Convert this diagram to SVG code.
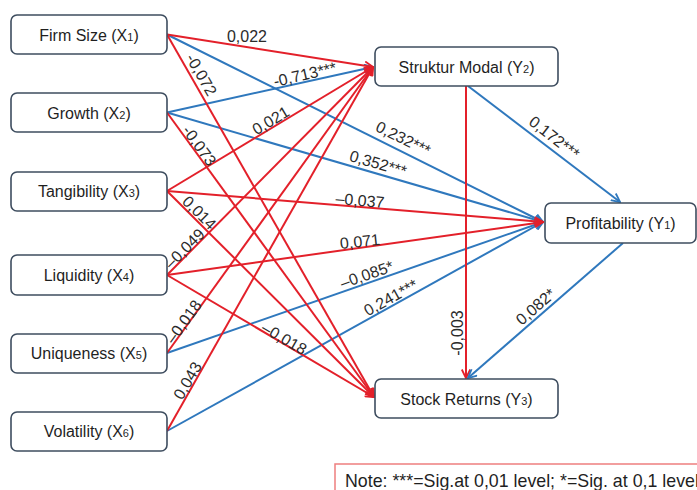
<svg xmlns="http://www.w3.org/2000/svg" width="697" height="490" viewBox="0 0 697 490">
<defs>
<style>
.box{fill:#ffffff;stroke:#3e4d5f;stroke-width:1.6}
.nt{font-family:"Liberation Sans",Arial,sans-serif;font-size:16px;fill:#1f1f1f;text-anchor:middle}
.sub{font-size:11px}
.r{fill:none;stroke:#e3202a;stroke-width:2;marker-end:url(#mr)}
.b{fill:none;stroke:#2f78bd;stroke-width:2;marker-end:url(#mb)}
.lb{font-family:"Liberation Sans",Arial,sans-serif;font-size:16px;fill:#2b2b2b;text-anchor:middle}
</style>
<marker id="mr" viewBox="0 0 10 10" refX="9" refY="5" markerWidth="10" markerHeight="10" markerUnits="userSpaceOnUse" orient="auto">
<path d="M0.5,0.8 L9.2,5 L0.5,9.2" fill="none" stroke="#e3202a" stroke-width="1.8"/>
</marker>
<marker id="mb" viewBox="0 0 10 10" refX="9" refY="5" markerWidth="10" markerHeight="10" markerUnits="userSpaceOnUse" orient="auto">
<path d="M0.5,0.8 L9.2,5 L0.5,9.2" fill="none" stroke="#2f78bd" stroke-width="1.8"/>
</marker>
</defs>
<rect width="697" height="490" fill="#ffffff"/>
<g id="connectors">
<path class="b" d="M167,34.5 L543,222"/>
<path class="b" d="M167,112.5 L543,222"/>
<path class="b" d="M167,353 L543,222"/>
<path class="b" d="M167,431 L543,222"/>
<path class="b" d="M167,112.5 L373,67"/>
<path class="r" d="M167,191 L543,222"/>
<path class="r" d="M167,275 L543,222"/>
<path class="r" d="M167,34.5 L373,67"/>
<path class="r" d="M167,191 L373,67"/>
<path class="r" d="M167,275 L373,67"/>
<path class="r" d="M167,353 L373,67"/>
<path class="r" d="M167,431 L373,67"/>
<path class="r" d="M167,34.5 L374,397"/>
<path class="r" d="M167,112.5 L374,397"/>
<path class="r" d="M167,191 L374,397"/>
<path class="r" d="M167,275 L374,397"/>
<path class="b" d="M468,86 L620,202"/>
<path class="r" d="M466,86 L466,378"/>
<path class="b" d="M623,243 L468,378"/>
<g id="labels">
<text class="lb" x="247" y="42">0,022</text>
<text class="lb" transform="translate(305,75) rotate(-13)" y="5">-0,713***</text>
<text class="lb" transform="translate(201,75) rotate(60)" y="5">-0,072</text>
<text class="lb" transform="translate(199,146) rotate(54)" y="5">-0,073</text>
<text class="lb" transform="translate(271,121) rotate(-31)" y="5">0,021</text>
<text class="lb" transform="translate(403,139) rotate(26)" y="5">0,232***</text>
<text class="lb" transform="translate(378,164) rotate(16)" y="5">0,352***</text>
<text class="lb" transform="translate(360,201) rotate(5)" y="5">–0,037</text>
<text class="lb" transform="translate(360,242) rotate(-6)" y="5">0,071</text>
<text class="lb" transform="translate(367,275) rotate(-19)" y="5">–0,085*</text>
<text class="lb" transform="translate(391,298) rotate(-29)" y="5">0,241***</text>
<text class="lb" transform="translate(185,249) rotate(-45)" y="5">–0,049</text>
<text class="lb" transform="translate(199,213) rotate(45)" y="5">0,014</text>
<text class="lb" transform="translate(184,322) rotate(-54)" y="5">–0,018</text>
<text class="lb" transform="translate(284,339) rotate(30)" y="5">–0,018</text>
<text class="lb" transform="translate(188,381) rotate(-60)" y="5">0,043</text>
<text class="lb" transform="translate(554,138) rotate(38)" y="5">0,172***</text>
<text class="lb" transform="translate(458,333) rotate(-90)" y="5">-0,003</text>
<text class="lb" transform="translate(536,307) rotate(-41)" y="5">0,082*</text>
</g>
</g>
<g id="firm-size"><rect class="box" x="11" y="15" width="156" height="39" rx="6"/><text class="nt" x="89" y="40.5">Firm Size (X<tspan class="sub">1</tspan>)</text></g>
<g id="growth"><rect class="box" x="11" y="93" width="156" height="39" rx="6"/><text class="nt" x="89" y="118.5">Growth (X<tspan class="sub">2</tspan>)</text></g>
<g id="tangibility"><rect class="box" x="11" y="172" width="156" height="39" rx="6"/><text class="nt" x="89" y="197">Tangibility (X<tspan class="sub">3</tspan>)</text></g>
<g id="liquidity"><rect class="box" x="11" y="255" width="156" height="40" rx="6"/><text class="nt" x="89" y="281">Liquidity (X<tspan class="sub">4</tspan>)</text></g>
<g id="uniqueness"><rect class="box" x="11" y="334" width="156" height="39" rx="6"/><text class="nt" x="89" y="359">Uniqueness (X<tspan class="sub">5</tspan>)</text></g>
<g id="volatility"><rect class="box" x="11" y="412" width="156" height="39" rx="6"/><text class="nt" x="89" y="437">Volatility (X<tspan class="sub">6</tspan>)</text></g>
<g id="struktur-modal"><rect class="box" x="375" y="47" width="183" height="39" rx="6"/><text class="nt" x="466.5" y="72.5">Struktur Modal (Y<tspan class="sub">2</tspan>)</text></g>
<g id="profitability"><rect class="box" x="545" y="203" width="151" height="40" rx="6"/><text class="nt" x="620.5" y="229">Profitability (Y<tspan class="sub">1</tspan>)</text></g>
<g id="stock-returns"><rect class="box" x="375" y="379" width="183" height="39" rx="6"/><text class="nt" x="466.5" y="404.5">Stock Returns (Y<tspan class="sub">3</tspan>)</text></g>
<g id="note"><rect x="335" y="464" width="400" height="40" fill="#ffffff" stroke="#ee7f7f" stroke-width="1.5"/><text x="345" y="487" font-family="Liberation Sans, Arial, sans-serif" font-size="17.8" fill="#1f1f1f">Note: ***=Sig.at 0,01 level; *=Sig. at 0,1 level</text></g>
</svg>
